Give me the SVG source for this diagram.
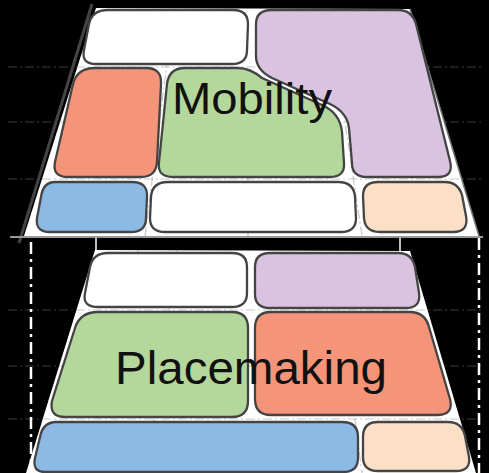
<svg xmlns="http://www.w3.org/2000/svg" width="489" height="473" viewBox="0 0 489 473">
  <style>
    .plane { fill: #ffffff; }
    .grid { fill: none; stroke: #888; stroke-opacity: 0.45; stroke-width: 1.2; stroke-dasharray: 9 3 2 3; }
    .zone { stroke: #444; stroke-width: 2.3; stroke-linejoin: round; }
    .white { fill: #ffffff; }
    .purple { fill: #d9c3e1; }
    .green { fill: #b4d89b; }
    .orange { fill: #f4957a; }
    .blue { fill: #8dbae4; }
    .peach { fill: #fcdfc7; }
    .label { font-family: "Liberation Sans", Arial, sans-serif; fill: #111; }
    .proj { fill: none; stroke: #ffffff; stroke-width: 2.5; stroke-dasharray: 12 5 3 5; }
  </style>

  <rect width="489" height="473" fill="#000"/>

  <!-- upper plane -->
  <g id="plane-mobility">
    <polygon class="plane" points="96,8 410,9 479,236 24,236"/>
    <polyline points="410,9 479,236" fill="none" stroke="#777" stroke-width="1.5"/>
    <g class="grid">
      <line x1="8" y1="67" x2="484" y2="67"/>
      <line x1="8" y1="122" x2="484" y2="122"/>
      <line x1="8" y1="179" x2="484" y2="179"/>
      <line x1="174" y1="8" x2="145" y2="236"/>
      <line x1="328" y1="8" x2="362" y2="236"/>
      <line x1="248" y1="178" x2="248" y2="236"/>
    </g>
    <line x1="92" y1="4" x2="19" y2="243" stroke="#444" stroke-width="3"/>
  </g>

  <!-- lower plane -->
  <g id="plane-placemaking">
    <polygon class="plane" points="95,250 410,251 476,473 26,473"/>
    <g class="grid">
      <line x1="8" y1="310" x2="484" y2="310"/>
      <line x1="8" y1="366" x2="484" y2="366"/>
      <line x1="8" y1="419" x2="484" y2="419"/>
      <line x1="177" y1="250" x2="147" y2="473"/>
      <line x1="333" y1="250" x2="362" y2="473"/>
      <line x1="138" y1="250" x2="131" y2="308"/>
      <line x1="363" y1="250" x2="371" y2="308"/>
    </g>
  </g>

  <!-- zones of the upper plane -->
  <g id="m-white-top"><path class="zone white" d="M108,10 L233,10 Q248,10 248,24 L247,50 Q247,64 232,64 L96,64 Q81,64 84,50 L89,24 Q92,10 108,10 Z"/></g>
  <g id="m-purple"><path class="zone purple" d="M272,10 L398,10 Q412,10 416,24 L450,161 Q454,177 438,177 L367,177 Q352,177 352,163 L349,128 Q347,112 330,104 L272,78 Q256,70 256,56 L256,24 Q256,10 272,10 Z"/></g>
  <g id="m-green"><path class="zone green" d="M185,68 L238,68 Q250,68 262,78 L322,105 Q340,113 342,132 L344,163 Q345,177 330,177 L173,177 Q157,177 159,162 L167,84 Q169,68 185,68 Z"/></g>
  <g id="m-orange"><path class="zone orange" d="M95,68 L146,68 Q162,68 161,84 L157,162 Q156,177 141,177 L68,177 Q52,177 55,162 L73,84 Q77,68 95,68 Z"/></g>
  <g id="m-blue"><path class="zone blue" d="M55,182 L132,182 Q148,182 147,197 L146,218 Q146,232 131,232 L50,232 Q35,232 37,218 L41,197 Q43,182 55,182 Z"/></g>
  <g id="m-white-bottom"><path class="zone white" d="M168,182 L338,182 Q354,182 355,197 L356,218 Q356,232 341,232 L165,232 Q150,232 150,218 L151,197 Q152,182 168,182 Z"/></g>
  <g id="m-peach"><path class="zone peach" d="M378,182 L445,182 Q458,182 462,195 L466,216 Q469,232 453,232 L380,232 Q365,232 364,218 L363,196 Q363,182 378,182 Z"/></g>
  <text class="label" x="172" y="114" font-size="45" textLength="160" lengthAdjust="spacingAndGlyphs">Mobility</text>

  <!-- zones of the lower plane -->
  <g id="p-white"><path class="zone white" d="M108,253 L232,253 Q247,253 247,267 L247,293 Q247,307 232,307 L98,307 Q82,307 85,293 L90,267 Q93,253 108,253 Z"/></g>
  <g id="p-purple"><path class="zone purple" d="M270,253 L398,253 Q412,253 415,267 L419,293 Q421,308 406,308 L270,308 Q255,308 255,294 L255,267 Q255,253 270,253 Z"/></g>
  <g id="p-green"><path class="zone green" d="M98,312 L232,312 Q248,312 248,328 L248,401 Q248,417 232,417 L65,417 Q49,417 52,401 L75,328 Q80,312 98,312 Z"/></g>
  <g id="p-orange"><path class="zone orange" d="M271,312 L410,312 Q425,312 429,327 L450,399 Q454,415 437,415 L271,415 Q255,415 255,399 L255,328 Q255,312 271,312 Z"/></g>
  <g id="p-blue"><path class="zone blue" d="M56,422 L342,422 Q358,422 358,437 L358,458 Q358,472 343,472 L45,472 Q32,472 35,458 L40,437 Q43,422 56,422 Z"/></g>
  <g id="p-peach"><path class="zone peach" d="M378,422 L448,422 Q462,422 465,436 L469,457 Q471,471 456,471 L378,471 Q363,471 363,457 L363,437 Q363,422 378,422 Z"/></g>
  <text class="label" x="115" y="384" font-size="46" textLength="272" lengthAdjust="spacingAndGlyphs">Placemaking</text>

  <!-- projection lines between the planes -->
  <g id="links">
    <line x1="10" y1="237" x2="483" y2="237" stroke="#9a9a9a" stroke-width="2"/>
    <line x1="96" y1="238" x2="96" y2="251" stroke="#fff" stroke-width="1.5"/>
    <line x1="400" y1="238" x2="400" y2="252" stroke="#fff" stroke-width="1.5"/>
    <line class="proj" x1="31" y1="242" x2="31" y2="473"/>
    <line class="proj" x1="479" y1="238" x2="479" y2="473"/>
  </g>
</svg>
